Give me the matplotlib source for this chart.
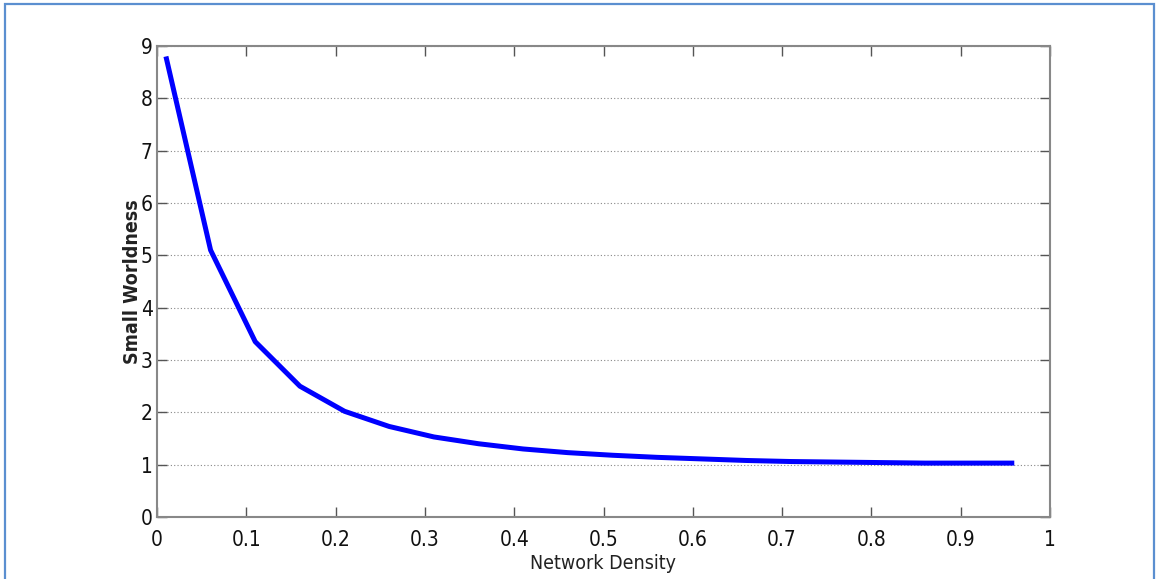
import matplotlib
matplotlib.use("Agg")
import matplotlib.pyplot as plt
from matplotlib.patches import Rectangle

density = [0.01, 0.06, 0.11, 0.16, 0.21, 0.26, 0.31, 0.36, 0.41, 0.46,
           0.51, 0.56, 0.61, 0.66, 0.71, 0.76, 0.81, 0.86, 0.91, 0.96]
worldness = [8.8, 5.1, 3.35, 2.5, 2.02, 1.73, 1.53, 1.4, 1.3, 1.23,
             1.18, 1.14, 1.11, 1.08, 1.06, 1.05, 1.04, 1.03, 1.03, 1.03]
xticks = [0, 0.1, 0.2, 0.3, 0.4, 0.5, 0.6, 0.7, 0.8, 0.9, 1]
xticklabels = ["0", "0.1", "0.2", "0.3", "0.4", "0.5", "0.6", "0.7", "0.8", "0.9", "1"]
yticks = list(range(0, 10))

plt.rcParams["font.family"] = ["DejaVu Sans"]
plt.rcParams["font.stretch"] = "condensed"

fig = plt.figure(figsize=(11.6, 5.79), dpi=100)
ax = fig.add_axes([157/1160, 1-517/579, (1050-157)/1160, (517-46)/579])

ax.plot(density, worldness, color="#0000ff", linewidth=3.6, solid_capstyle="butt")

ax.set_xlim(0, 1)
ax.set_ylim(0, 9)
ax.set_xticks(xticks)
ax.set_xticklabels(xticklabels)
ax.set_yticks(yticks)
ax.yaxis.grid(True, linestyle=(0, (1, 2)), color="#888888", linewidth=0.8)
ax.tick_params(direction="in", top=True, right=True, length=7, width=1,
               color="#555555", labelsize=15, labelcolor="#111111")
ax.tick_params(axis="x", pad=9)
ax.tick_params(axis="y", pad=3)
for s in ax.spines.values():
    s.set_color("#888888")
    s.set_linewidth(1.5)

ax.set_xlabel("Network Density", fontsize=14, color="#222222", labelpad=3)
ax.set_ylabel("Small Worldness", fontsize=14, color="#222222", fontweight="bold", labelpad=-1)

fig.patches.append(Rectangle((5/1160, -0.05), 1149/1160, 1.05 - 4/579, transform=fig.transFigure,
                             fill=False, edgecolor="#5b8fd0", linewidth=1.6))

fig.savefig("out.png", dpi=100)
